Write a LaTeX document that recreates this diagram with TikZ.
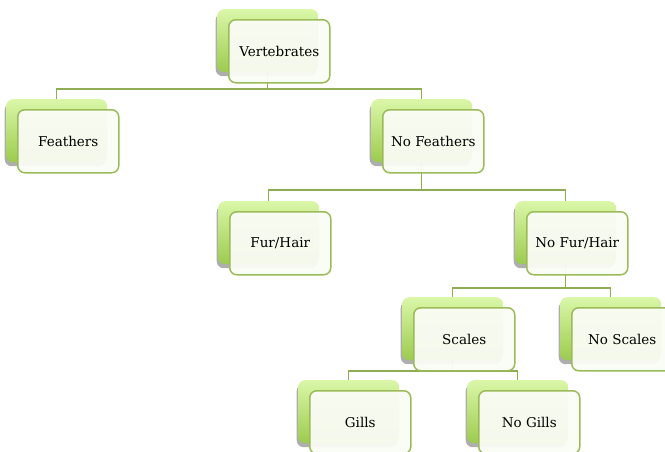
\documentclass[tikz,border=0pt]{standalone}
\usepackage{fontspec}
\setmainfont{DejaVu Serif}
\usetikzlibrary{shadows,backgrounds}

\definecolor{tiletop}{HTML}{DAF7A8}
\definecolor{tilebot}{HTML}{9CCB4E}
\definecolor{tileline}{HTML}{9BBB59}
\definecolor{tilefill}{HTML}{FAFCF5}
\definecolor{linkcol}{HTML}{8FAE53}

\begin{document}
\begin{tikzpicture}
	[
		x=1pt, y=-1pt,
		tile/.style = {shape=rectangle, rounded corners=7pt, anchor=north west, minimum width=101pt, minimum height=63pt, inner sep=0pt},
		btile/.style = {tile, top color=tiletop, bottom color=tilebot, drop shadow={shadow xshift=-1.5pt, shadow yshift=-4pt, opacity=0.45, fill=black!70}},
		ftile/.style = {tile, draw=tileline, line width=1.5pt, fill=tilefill, fill opacity=0.95, text opacity=1, font=\fontsize{13.5}{16}\selectfont},
		link/.style = {draw=linkcol, line width=1.5pt}
	]
	
	\useasboundingbox (0,0) rectangle (665,451);
	
	% back tile and front tile for every box
	\foreach \name/\x/\y/\txt in {vert/217/9/Vertebrates, feath/6/99/Feathers, nofeath/371/99/No Feathers,
		fur/218/201/{Fur/Hair}, nofur/515/201/{No Fur/Hair}, scales/402/297/Scales, noscales/560/297/No Scales,
		gills/298/380/Gills, nogills/467/380/No Gills}
	{
		\node [btile] (\name B) at (\x, \y) {};
		\node [ftile] (\name) at ({\x + 11}, {\y + 10}) {\txt};
	}
	
	% connectors
	\begin{pgfonlayer}{background}
		\coordinate (bar1) at (0, 89);
		\coordinate (bar2) at (0, 190);
		\coordinate (bar3) at (0, 288);
		\coordinate (bar4) at (0, 371);
		
		\draw [link] (vertB.south) -- (vertB.south |- bar1) -| (feathB.north);
		\draw [link] (vertB.south |- bar1) -| (nofeathB.north);
		
		\draw [link] (nofeathB.south) -- (nofeathB.south |- bar2) -| (furB.north);
		\draw [link] (nofeathB.south |- bar2) -| (nofurB.north);
		
		\draw [link] (nofurB.south) -- (nofurB.south |- bar3) -| (scalesB.north);
		\draw [link] (nofurB.south |- bar3) -| (noscalesB.north);
		
		\draw [link] (scalesB.south) -- (scalesB.south |- bar4) -| (gillsB.north);
		\draw [link] (scalesB.south |- bar4) -| (nogillsB.north);
	\end{pgfonlayer}
	
\end{tikzpicture}
\end{document}
